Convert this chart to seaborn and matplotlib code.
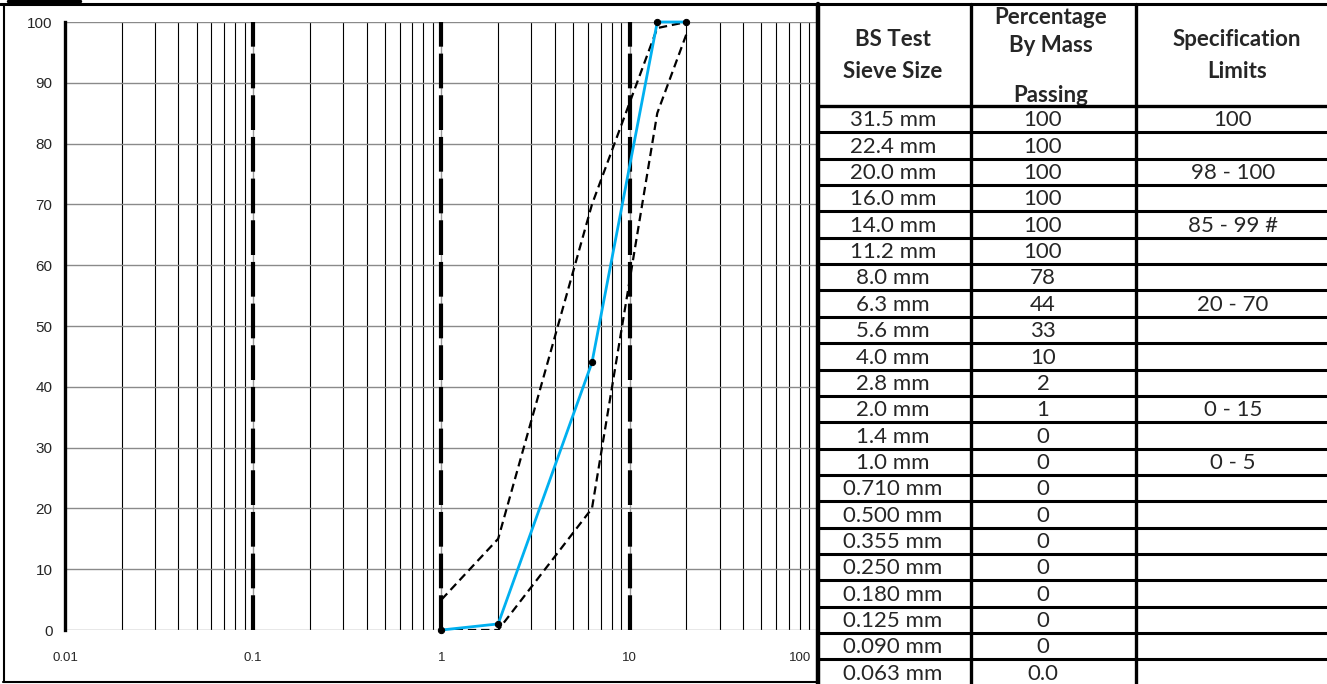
import matplotlib
matplotlib.use("Agg")
import matplotlib.pyplot as plt
import matplotlib.transforms as mtransforms
from matplotlib.ticker import LogLocator, FixedLocator, NullFormatter
import seaborn as sns

# Grading data at the specification sieves (mm, % passing)
spec_sizes = [1.0, 2.0, 6.3, 14.0, 20.0]
passing = [0, 1, 44, 100, 100]
lower_limit = [0, 0, 20, 85, 98]
upper_limit = [5, 15, 70, 99, 100]

# Table contents
sieve_labels = ["31.5 mm", "22.4 mm", "20.0 mm", "16.0 mm", "14.0 mm", "11.2 mm",
                "8.0 mm", "6.3 mm", "5.6 mm", "4.0 mm", "2.8 mm", "2.0 mm",
                "1.4 mm", "1.0 mm", "0.710 mm", "0.500 mm", "0.355 mm",
                "0.250 mm", "0.180 mm", "0.125 mm", "0.090 mm", "0.063 mm"]
passing_labels = ["100", "100", "100", "100", "100", "100", "78", "44", "33",
                  "10", "2", "1", "0", "0", "0", "0", "0", "0", "0", "0", "0", "0.0"]
spec_labels = ["100", "", "98 - 100", "", "85 - 99 #", "", "", "20 - 70", "", "",
               "", "0 - 15", "", "0 - 5", "", "", "", "", "", "", "", ""]

sns.set_style("white")
plt.rcParams["font.family"] = ["Liberation Sans", "DejaVu Sans"]
plt.rcParams["lines.scale_dashes"] = False

W, H = 1327, 684
fig = plt.figure(figsize=(W / 100, H / 100), dpi=100)

# ---- grading chart ----
ax = fig.add_axes([65 / W, 1 - 630 / H, (818 - 65) / W, (630 - 22) / H])
ax.set_xscale("log")
ax.set_xlim(0.01, 100)
ax.set_ylim(0, 100)
ax.set_yticks(range(0, 101, 10))
ax.xaxis.set_major_locator(FixedLocator([0.01, 0.1, 1, 10, 100]))
ax.set_xticklabels(["0.01", "0.1", "1", "10", "100"])
ax.xaxis.set_minor_locator(LogLocator(base=10, subs=range(2, 10)))
ax.xaxis.set_minor_formatter(NullFormatter())

ax.grid(True, which="major", axis="y", color="#8a8a8a", lw=1.0, zorder=0)
ax.grid(True, which="major", axis="x", color="#9a9a9a", lw=1.0, zorder=0)
ax.grid(True, which="minor", axis="x", color="black", lw=0.8, zorder=0)
ax.set_axisbelow(True)

for xv in [0.1, 1, 10]:
    ax.axvline(xv, color="black", lw=3, linestyle=(0, (25, 5)), zorder=1)

for s in ["top", "right", "bottom"]:
    ax.spines[s].set_visible(False)
ax.spines["left"].set_color("black")
ax.spines["left"].set_linewidth(2.4)

ax.tick_params(axis="y", which="major", direction="out", length=3, width=1.5,
               color="black", pad=6, labelsize=11)
ax.tick_params(axis="x", which="major", direction="out", length=3, width=1,
               color="#9a9a9a", pad=13, labelsize=9.5)
ax.tick_params(axis="x", which="minor", length=0)
last = ax.get_xticklabels()[-1]
last.set_horizontalalignment("right")
last.set_transform(last.get_transform() +
                   mtransforms.ScaledTranslation(-5 / 72, 0, fig.dpi_scale_trans))

sns.lineplot(x=spec_sizes, y=lower_limit, ax=ax, color="black", lw=1.6,
             linestyle=(0, (6, 3.5)), zorder=3)
sns.lineplot(x=spec_sizes, y=upper_limit, ax=ax, color="black", lw=1.6,
             linestyle=(0, (6, 3.5)), zorder=3)
sns.lineplot(x=spec_sizes, y=passing, ax=ax, color="#00B0F0", lw=2.0,
             marker="o", markersize=4.5, markerfacecolor="black",
             markeredgecolor="black", zorder=4, clip_on=False)
ax.set_xlabel("")
ax.set_ylabel("")

# ---- table and frame (pixel coordinates) ----
tab = fig.add_axes([0, 0, 1, 1], zorder=10)
tab.set_xlim(0, W)
tab.set_ylim(H, 0)
tab.axis("off")

# underline of the caption that sits above the crop
tab.plot([8, 80], [1, 1], color="black", lw=2.5)

# outer frames
tab.plot([0, W], [4, 4], color="black", lw=2.2)
tab.plot([3.5, 3.5], [4, 682], color="black", lw=1.5)
tab.plot([3, 818], [682, 682], color="black", lw=1.5)
tab.plot([818, 818], [4, H], color="black", lw=3.2)
tab.plot([971, 971], [4, H], color="black", lw=2.4)
tab.plot([1136, 1136], [4, H], color="black", lw=2.4)

header_bottom = 106
row_h = 26.35

tfont = ["Lato", "DejaVu Sans"]
hdr = dict(fontsize=16, fontweight="bold", ha="center", va="center", family=tfont)
tab.text(893, 40, "BS Test", **hdr)
tab.text(893, 72, "Sieve Size", **hdr)
tab.text(1051, 18, "Percentage", **hdr)
tab.text(1051, 45, "By Mass", **hdr)
tab.text(1051, 96, "Passing", **hdr)
tab.text(1237, 40, "Specification", **hdr)
tab.text(1237, 72, "Limits", **hdr)
tab.plot([818, W], [header_bottom, header_bottom], color="black", lw=2.4,
         zorder=5)

cell = dict(fontsize=16, ha="center", va="baseline", family=tfont)
for i, (s, p, sp) in enumerate(zip(sieve_labels, passing_labels, spec_labels)):
    bottom = header_bottom + row_h * (i + 1)
    tab.text(893, bottom - 6, s, **cell)
    tab.text(1043, bottom - 6, p, **cell)
    if sp:
        tab.text(1233, bottom - 6, sp, **cell)
    tab.plot([818, W], [bottom, bottom], color="black", lw=2.2, zorder=5)

fig.savefig("out.png", dpi=100)
